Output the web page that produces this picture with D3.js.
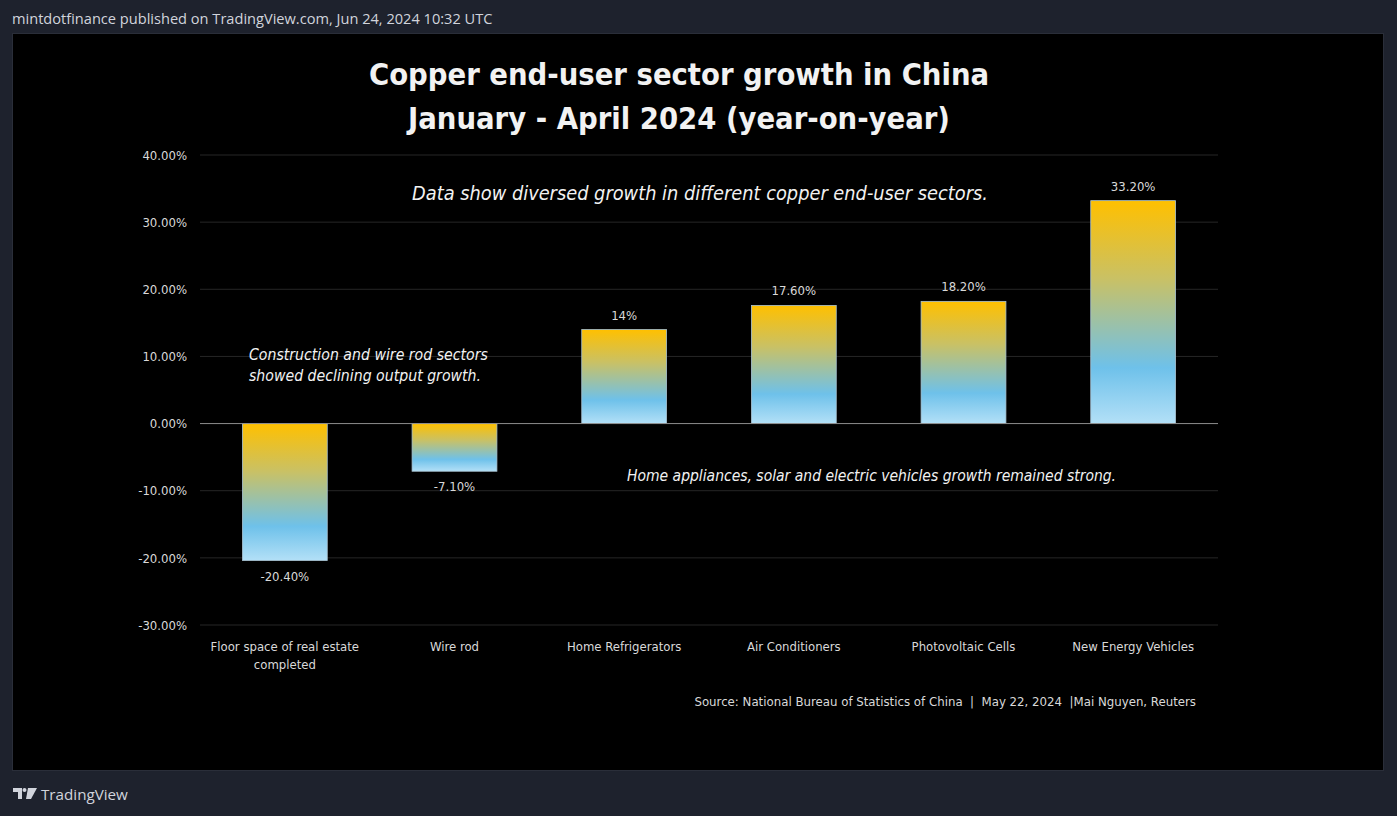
<!DOCTYPE html>
<html>
<head>
<meta charset="utf-8">
<script src="https://cdn.jsdelivr.net/npm/d3@7"></script>
<style>
  html, body { margin: 0; padding: 0; background: #1e222d; }
  svg { display: block; }
</style>
</head>
<body>
<svg id="chart" width="1397" height="816"></svg>
<script>
// ---- data ----
const categories = [
  ["Floor space of real estate", "completed"],
  ["Wire rod"],
  ["Home Refrigerators"],
  ["Air Conditioners"],
  ["Photovoltaic Cells"],
  ["New Energy Vehicles"]
];
const values = [-20.4, -7.1, 14, 17.6, 18.2, 33.2];
const valueLabels = ["-20.40%", "-7.10%", "14%", "17.60%", "18.20%", "33.20%"];
const yTicks = [40, 30, 20, 10, 0, -10, -20, -30];
const titleLines = ["Copper end-user sector growth in China", "January - April 2024 (year-on-year)"];
const subtitle = "Data show diversed growth in different copper end-user sectors.";
const noteNeg = ["Construction and wire rod sectors", "showed declining output growth."];
const notePos = "Home appliances, solar and electric vehicles growth remained strong.";
const source = "Source: National Bureau of Statistics of China  |  May 22, 2024  |Mai Nguyen, Reuters";
const header = "mintdotfinance published on TradingView.com, Jun 24, 2024 10:32 UTC";

const svg = d3.select("#chart");
const narrow = "'Liberation Sans Narrow', 'DejaVu Sans Condensed', 'Roboto', sans-serif";
const titleFont = "'DejaVu Sans Condensed', 'Liberation Sans Narrow', sans-serif";

// page chrome
svg.append("text").attr("x", 12).attr("y", 24)
  .attr("fill", "#d1d4dc").attr("font-family", "'Open Sans', 'DejaVu Sans', sans-serif")
  .attr("font-size", 14.6).text(header);

svg.append("rect").attr("x", 12.5).attr("y", 33.5).attr("width", 1371).attr("height", 737)
  .attr("fill", "#000").attr("stroke", "#2a2e39").attr("stroke-width", 1);

// TradingView logo
const logo = svg.append("g").attr("transform", "translate(13,788)");
logo.append("path").attr("d", "M0 0 H9 V11 H5 V4 H0 Z").attr("fill", "#d1d4dc");
logo.append("circle").attr("cx", 11.5).attr("cy", 2).attr("r", 2).attr("fill", "#d1d4dc");
logo.append("path").attr("d", "M15 0 H24 L18 11 H13 Z").attr("fill", "#d1d4dc");
svg.append("text").attr("x", 41).attr("y", 800)
  .attr("fill", "#d1d4dc").attr("font-family", "'Open Sans', 'DejaVu Sans', sans-serif")
  .attr("font-size", 15.2).text("TradingView");

// scales
const x = d3.scaleBand().domain(d3.range(categories.length)).range([200, 1218]).paddingInner(0.5).paddingOuter(0.25);
const y = d3.scaleLinear().domain([-30, 40]).range([625, 155]);

// gradient (top of bar -> bottom of bar)
const defs = svg.append("defs");
const grad = defs.append("linearGradient").attr("id", "barGrad")
  .attr("x1", 0).attr("y1", 0).attr("x2", 0).attr("y2", 1);
grad.append("stop").attr("offset", "0%").attr("stop-color", "#ffc000");
grad.append("stop").attr("offset", "35%").attr("stop-color", "#c9c165");
grad.append("stop").attr("offset", "75%").attr("stop-color", "#6ec1ea");
grad.append("stop").attr("offset", "100%").attr("stop-color", "#b3e0f7");

// gridlines
svg.append("g").selectAll("line").data(yTicks.filter(t => t !== 0)).join("line")
  .attr("x1", 200).attr("x2", 1218)
  .attr("y1", d => y(d)).attr("y2", d => y(d))
  .attr("stroke", "#262626").attr("stroke-width", 1);

// y axis labels
const yAxis = d3.axisLeft(y).tickValues(yTicks).tickSize(0).tickPadding(0)
  .tickFormat(d => d.toFixed(2) + "%");
const gy = svg.append("g").attr("transform", "translate(187,0)").call(yAxis);
gy.select(".domain").remove();
gy.selectAll("text").attr("fill", "#d9d9d9").attr("font-family", narrow).attr("font-size", 13);

// bars
svg.append("g").selectAll("rect").data(values).join("rect")
  .attr("x", (d, i) => x(i))
  .attr("width", x.bandwidth())
  .attr("y", d => y(Math.max(0, d)))
  .attr("height", d => Math.abs(y(d) - y(0)))
  .attr("fill", "url(#barGrad)")
  .attr("stroke", "#a9c3d3").attr("stroke-width", 0.8);

// zero line
svg.append("line").attr("x1", 200).attr("x2", 1218).attr("y1", y(0)).attr("y2", y(0))
  .attr("stroke", "#8c8c8c").attr("stroke-width", 1);

// value labels
svg.append("g").selectAll("text").data(values).join("text")
  .attr("x", (d, i) => x(i) + x.bandwidth() / 2)
  .attr("y", d => d >= 0 ? y(d) - 10 : y(d) + 20)
  .attr("text-anchor", "middle")
  .attr("fill", "#d9d9d9").attr("font-family", narrow).attr("font-size", 13)
  .text((d, i) => valueLabels[i]);

// category labels
const cat = svg.append("g").selectAll("text").data(categories).join("text")
  .attr("x", (d, i) => x(i) + x.bandwidth() / 2)
  .attr("y", 651)
  .attr("text-anchor", "middle")
  .attr("fill", "#d9d9d9").attr("font-family", narrow).attr("font-size", 13);
cat.selectAll("tspan").data(d => d).join("tspan")
  .attr("x", function () { return this.parentNode.getAttribute("x"); })
  .attr("dy", (d, j) => j === 0 ? 0 : 18)
  .text(d => d);

// title
svg.append("g").selectAll("text").data(titleLines).join("text")
  .attr("x", 679).attr("y", (d, i) => 85 + i * 44)
  .attr("text-anchor", "middle").attr("fill", "#f2f2f2")
  .attr("font-family", titleFont).attr("font-weight", "bold").attr("font-size", 30.6)
  .text(d => d);

// subtitle
svg.append("text").attr("x", 700).attr("y", 200).attr("text-anchor", "middle")
  .attr("fill", "#f2f2f2").attr("font-family", narrow).attr("font-style", "italic")
  .attr("font-size", 19.8).text(subtitle);

// annotations
svg.append("g").selectAll("text").data(noteNeg).join("text")
  .attr("x", 249).attr("y", (d, i) => 360 + i * 21)
  .attr("fill", "#f2f2f2").attr("font-family", narrow).attr("font-style", "italic")
  .attr("font-size", 15.7).text(d => d);
svg.append("text").attr("x", 627).attr("y", 481)
  .attr("fill", "#f2f2f2").attr("font-family", narrow).attr("font-style", "italic")
  .attr("font-size", 15.5).text(notePos);

// source
svg.append("text").attr("x", 1196).attr("y", 706).attr("text-anchor", "end")
  .attr("fill", "#d9d9d9").attr("font-family", narrow).attr("font-size", 13.1)
  .attr("xml:space", "preserve").text(source);
</script>
</body>
</html>
